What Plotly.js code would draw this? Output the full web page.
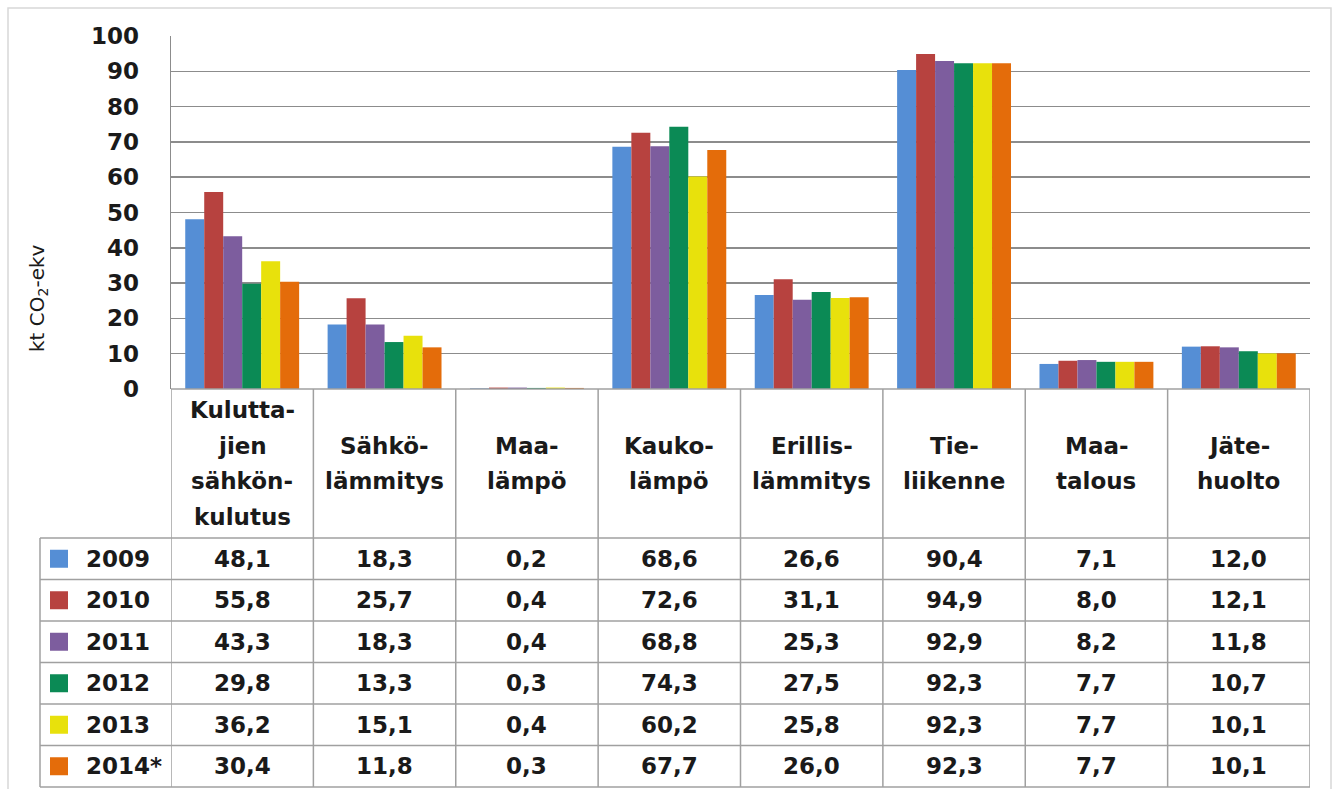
<!DOCTYPE html>
<html>
<head>
<meta charset="utf-8">
<script src="https://cdn.plot.ly/plotly-3.0.1.min.js"></script>
<style>html,body{margin:0;padding:0;background:#fff;}#chart{width:1336px;height:789px;}</style>
</head>
<body>
<div id="chart"></div>
<script>
// ---- data ----
const categoryLines = [
  ["Kulutta-", "jien", "sähkön-", "kulutus"],
  ["Sähkö-", "lämmitys"],
  ["Maa-", "lämpö"],
  ["Kauko-", "lämpö"],
  ["Erillis-", "lämmitys"],
  ["Tie-", "liikenne"],
  ["Maa-", "talous"],
  ["Jäte-", "huolto"]
];
const categories = categoryLines.map(l => l.join(""));
const years = ["2009", "2010", "2011", "2012", "2013", "2014*"];
const v2009 = [48.1, 18.3, 0.2, 68.6, 26.6, 90.4, 7.1, 12.0];
const v2010 = [55.8, 25.7, 0.4, 72.6, 31.1, 94.9, 8.0, 12.1];
const v2011 = [43.3, 18.3, 0.4, 68.8, 25.3, 92.9, 8.2, 11.8];
const v2012 = [29.8, 13.3, 0.3, 74.3, 27.5, 92.3, 7.7, 10.7];
const v2013 = [36.2, 15.1, 0.4, 60.2, 25.8, 92.3, 7.7, 10.1];
const v2014 = [30.4, 11.8, 0.3, 67.7, 26.0, 92.3, 7.7, 10.1];
const seriesValues = [v2009, v2010, v2011, v2012, v2013, v2014];
const colors = ["#558ed5", "#b7423f", "#7d5d9e", "#0b8a55", "#e8e10c", "#e46c0a"];
const yTitle = "kt CO<sub>2</sub>-ekv";

// ---- geometry (pixels) ----
const W = 1336, H = 789;
const L = 171, R = 1310, T = 36, B = 389;
const pw = R - L, ph = B - T;
const px = x => (x - L) / pw;           // pixel x -> paper
const py = y => (B - y) / ph;           // pixel y -> paper
const headerBottom = 538, rowH = 41.5, tableBottom = headerBottom + 6 * rowH;
const tableLeft = 40;
const lineColor = "#a0a0a0";
const textColor = "#1a1a1a";
const FONT = "DejaVu Sans";

const traces = years.map((yr, i) => ({
  type: "bar",
  name: yr,
  x: categories,
  y: seriesValues[i],
  marker: { color: colors[i], line: { width: 0 } },
  hoverinfo: "x+y+name"
}));

const shapes = [];
const annotations = [];

// outer frame
shapes.push({ type: "rect", xref: "paper", yref: "paper",
  x0: px(8), x1: px(1331), y0: py(8), y1: py(800),
  line: { color: "#d8d8d8", width: 1.5 }, fillcolor: "rgba(0,0,0,0)", layer: "below" });

// table top line (axis baseline)
shapes.push({ type: "line", xref: "paper", yref: "paper", x0: 0, x1: 1, y0: 0, y1: 0,
  line: { color: lineColor, width: 1.5 } });
// vertical lines of category columns
for (let k = 0; k <= categories.length; k++) {
  shapes.push({ type: "line", xref: "x", yref: "paper", x0: k - 0.5, x1: k - 0.5,
    y0: 0, y1: py(tableBottom), line: { color: lineColor, width: 1.5 } });
}
// left vertical of the year column
shapes.push({ type: "line", xref: "paper", yref: "paper", x0: px(tableLeft), x1: px(tableLeft),
  y0: py(headerBottom), y1: py(tableBottom), line: { color: lineColor, width: 1.5 } });
// horizontal row lines
for (let r = 0; r <= years.length; r++) {
  const yy = headerBottom + r * rowH;
  shapes.push({ type: "line", xref: "paper", yref: "paper", x0: px(tableLeft), x1: 1,
    y0: py(yy), y1: py(yy), line: { color: lineColor, width: 1.5 } });
}

// header texts
const headerCenter = (B + headerBottom) / 2;
const lineSpacing = 35.7;
categoryLines.forEach((lines, c) => {
  const n = lines.length;
  lines.forEach((t, j) => {
    const yy = headerCenter + (j - (n - 1) / 2) * lineSpacing;
    annotations.push({ xref: "x", yref: "paper", x: categories[c], y: py(yy),
      text: t, showarrow: false, xanchor: "center", yanchor: "middle",
      font: { family: FONT, size: 23, color: textColor, weight: "bold" } });
  });
});

// rows
const fmt = v => v.toFixed(1).replace(".", ",");
years.forEach((yr, r) => {
  const cy = headerBottom + r * rowH + rowH / 2;
  shapes.push({ type: "rect", xref: "paper", yref: "paper",
    x0: px(50), x1: px(68), y0: py(cy - 9), y1: py(cy + 9),
    fillcolor: colors[r], line: { width: 0 } });
  annotations.push({ xref: "paper", yref: "paper", x: px(84), y: py(cy), text: yr,
    showarrow: false, xanchor: "left", yanchor: "middle",
    font: { family: FONT, size: 23, color: textColor, weight: "bold" } });
  seriesValues[r].forEach((v, c) => {
    annotations.push({ xref: "x", yref: "paper", x: categories[c], y: py(cy), text: fmt(v),
      showarrow: false, xanchor: "center", yanchor: "middle",
      font: { family: FONT, size: 23, color: textColor, weight: "bold" } });
  });
});

// y-axis title
annotations.push({ xref: "paper", yref: "paper", x: px(38), y: py(298), text: yTitle,
  textangle: -90, showarrow: false, xanchor: "center", yanchor: "middle",
  font: { family: FONT, size: 20, color: textColor } });

const layout = {
  width: W, height: H,
  margin: { l: L, r: W - R, t: T, b: H - B, pad: 0 },
  paper_bgcolor: "#ffffff", plot_bgcolor: "#ffffff",
  barmode: "group", bargap: 0.2, bargroupgap: 0,
  showlegend: false,
  xaxis: { type: "category", range: [-0.5, categories.length - 0.5], showticklabels: false,
    showgrid: false, zeroline: false, showline: false, ticks: "" },
  yaxis: { range: [0, 100], dtick: 10, tick0: 0, showgrid: true, gridcolor: "#8c8c8c", gridwidth: 1.5,
    zeroline: false, showline: true, linecolor: "#8c8c8c", linewidth: 1.5, ticks: "",
    ticklabelstandoff: 26,
    tickfont: { family: FONT, size: 23, color: textColor, weight: "bold" } },
  shapes: shapes,
  annotations: annotations
};

Plotly.newPlot("chart", traces, layout, { displayModeBar: false, staticPlot: true });
</script>
</body>
</html>
